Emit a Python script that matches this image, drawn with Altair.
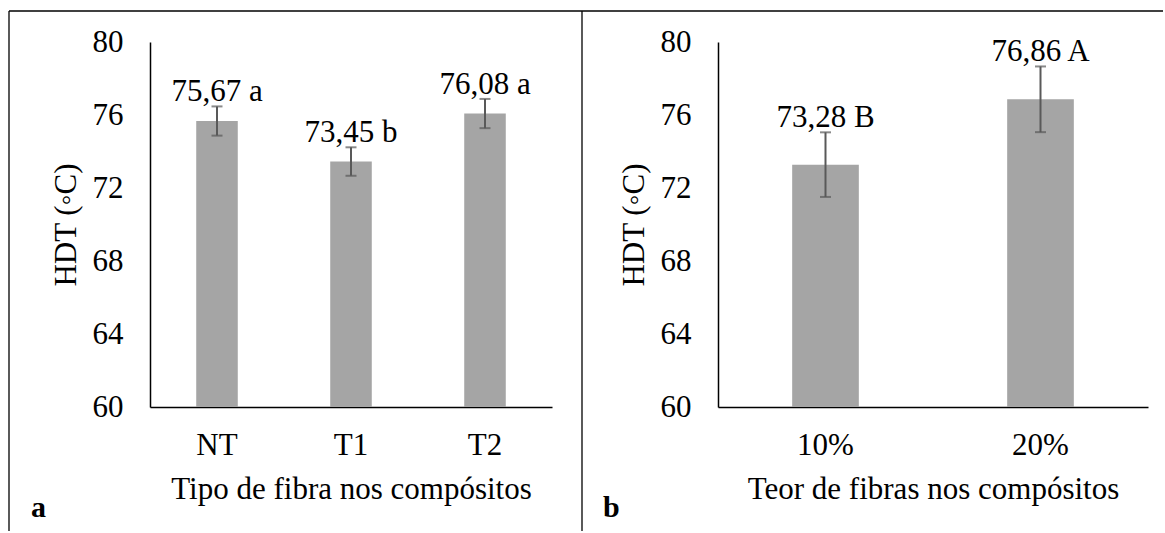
import altair as alt
import pandas as pd

# ---- data ----
fibra_cat = ["NT", "T1", "T2"]
fibra_val = [75.67, 73.45, 76.08]
fibra_err = [0.80, 0.78, 0.80]
fibra_grp = ["a", "b", "a"]

teor_cat = ["10%", "20%"]
teor_val = [73.28, 76.86]
teor_err = [1.77, 1.80]
teor_grp = ["B", "A"]

y_ticks = [60, 64, 68, 72, 76, 80]
y_min, y_max = 60, 80
y_title = "HDT (\u25e6C)"
FONT = "Liberation Serif"


def make_df(cats, vals, errs, grps):
    return pd.DataFrame({
        "cat": cats,
        "val": vals,
        "lo": [v - e for v, e in zip(vals, errs)],
        "hi": [v + e for v, e in zip(vals, errs)],
        "label": [f"{v:.2f}".replace(".", ",") + " " + g for v, g in zip(vals, grps)],
    })


one = pd.DataFrame({"k": [0]})


def panel(df, cats, width, xtitle, letter, letter_x, decor):
    base = alt.Chart(df)
    xs = alt.Scale(paddingInner=0.69, paddingOuter=0.345)
    ys = alt.Scale(domain=[y_min, y_max], nice=False, zero=False)
    x_axis = alt.Axis(title=xtitle, labelAngle=0, ticks=False, labelPadding=23,
                      titlePadding=14)
    y_axis = alt.Axis(values=y_ticks, title=y_title, ticks=False, grid=False,
                      labelPadding=27, titlePadding=10)
    X = alt.X("cat:N", sort=cats, scale=xs, axis=x_axis, title=xtitle)
    Y = lambda f: alt.Y(f, scale=ys, axis=y_axis, title=y_title)

    bars = base.mark_bar(color="#A5A5A5").encode(x=X, y=Y("val:Q"),
                                                 y2=alt.datum(y_min))
    err = base.mark_rule(color="#595959", strokeWidth=2).encode(
        x=X, y=Y("lo:Q"), y2="hi:Q")
    cap_hi = base.mark_tick(color="#595959", size=11, thickness=2).encode(
        x=X, y=Y("hi:Q"))
    cap_lo = base.mark_tick(color="#595959", size=11, thickness=2).encode(
        x=X, y=Y("lo:Q"))
    labels = base.mark_text(font=FONT, fontSize=31, color="black", dy=-5,
                            baseline="alphabetic", align="center").encode(
        x=X, y=Y("hi:Q"), text="label:N")
    let = alt.Chart(one).mark_text(font=FONT, fontSize=30, fontWeight="bold",
                                   color="black", align="left",
                                   baseline="alphabetic", text=letter).encode(
        x=alt.value(letter_x), y=alt.value(475))
    return alt.layer(bars, err, cap_hi, cap_lo, labels, let, *decor).properties(
        width=width, height=365)


df_a = make_df(fibra_cat, fibra_val, fibra_err, fibra_grp)
df_b = make_df(teor_cat, teor_val, teor_err, teor_grp)

border_kw = dict(color="black", strokeWidth=1.3)
left_border = alt.Chart(one).mark_rule(**border_kw).encode(
    x=alt.value(-141), y=alt.value(-31), y2=alt.value(489))
top_border = alt.Chart(one).mark_rule(**border_kw).encode(
    x=alt.value(-141), x2=alt.value(1013), y=alt.value(-31))
divider = alt.Chart(one).mark_rule(**border_kw).encode(
    x=alt.value(-136), y=alt.value(-31), y2=alt.value(489))

pa = panel(df_a, fibra_cat, 402, "Tipo de fibra nos compósitos", "a", -119,
           [left_border, top_border])
pb = panel(df_b, teor_cat, 430, "Teor de fibras nos compósitos", "b", -115,
           [divider])

chart = alt.hconcat(pa, pb, spacing=166, bounds="flush").properties(
    padding={"left": 8, "top": 10, "right": 0, "bottom": 0}
).configure_view(stroke=None).configure_axis(
    labelFont=FONT, titleFont=FONT, labelFontSize=31, titleFontSize=31,
    labelColor="black", titleColor="black", titleFontWeight="normal",
    domainColor="black", domainWidth=1.5,
).configure_text(font=FONT)

chart.save("out.html", embed_options={"renderer": "svg", "actions": False})
